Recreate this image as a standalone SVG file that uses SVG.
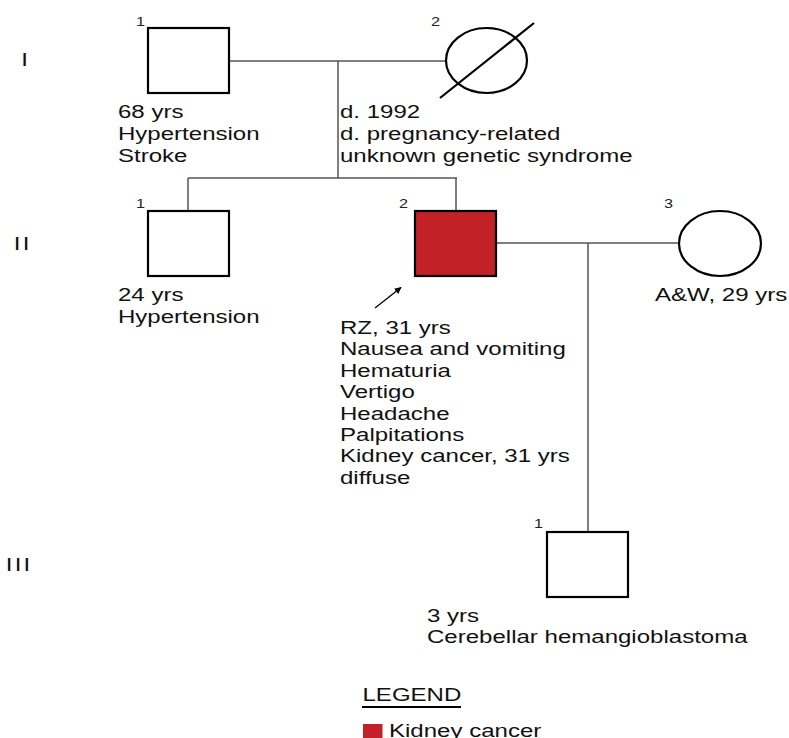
<svg xmlns="http://www.w3.org/2000/svg" width="789" height="738" viewBox="0 0 789 738">
<style>
  .t { font-family: "Liberation Sans", Arial, sans-serif; font-size: 18.5px; fill: #111; }
  .n { font-family: "Liberation Sans", Arial, sans-serif; font-size: 12.5px; fill: #222; }
  .g { font-family: "Liberation Sans", Arial, sans-serif; font-size: 18.5px; fill: #111; letter-spacing: 1.7px; }
  .sym { fill: #fff; stroke: #000; stroke-width: 2.2; }
  .aff { fill: #c22127; stroke: #000; stroke-width: 2.2; }
  .ln { stroke: #555; stroke-width: 1.5; fill: none; }
</style>
<defs>
  <marker id="ah" viewBox="0 0 10 10" refX="9" refY="5" markerWidth="7" markerHeight="7" orient="auto" markerUnits="userSpaceOnUse">
    <path d="M0,0 L10,5 L0,10 z" fill="#000"/>
  </marker>
</defs>
<rect width="789" height="738" fill="#fff"/>

<g id="generations">
  <text class="g" transform="translate(21.3 66) scale(1.3 1)" x="0" y="0">I</text>
  <text class="g" transform="translate(13.8 250) scale(1.3 1)" x="0" y="0">II</text>
  <text class="g" transform="translate(5.8 571) scale(1.3 1)" x="0" y="0">III</text>
</g>

<g id="connectors">
  <line class="ln" x1="229" y1="61" x2="446" y2="61"/>
  <line class="ln" x1="338" y1="61" x2="338" y2="178"/>
  <line class="ln" x1="188" y1="178" x2="457" y2="178"/>
  <line class="ln" x1="188" y1="178" x2="188" y2="211"/>
  <line class="ln" x1="456" y1="178" x2="456" y2="211"/>
  <line class="ln" x1="497" y1="243" x2="679" y2="243"/>
  <line class="ln" x1="588" y1="243" x2="588" y2="532"/>
</g>

<g id="I-1">
  <text class="n" transform="translate(136 26) scale(1.3 1)">1</text>
  <rect class="sym" x="148" y="28" width="81" height="65"/>
  <text class="t" transform="translate(118 118) scale(1.3 1)"><tspan x="0" y="0">68 yrs</tspan><tspan x="0" y="22">Hypertension</tspan><tspan x="0" y="44">Stroke</tspan></text>
</g>

<g id="I-2">
  <text class="n" transform="translate(431 26) scale(1.3 1)">2</text>
  <ellipse class="sym" cx="486.5" cy="60.5" rx="40.5" ry="32.5"/>
  <line x1="440" y1="98" x2="534" y2="23" stroke="#000" stroke-width="2.2"/>
  <text class="t" transform="translate(340 118) scale(1.3 1)"><tspan x="0" y="0">d. 1992</tspan><tspan x="0" y="22">d. pregnancy-related</tspan><tspan x="0" y="44">unknown genetic syndrome</tspan></text>
</g>

<g id="II-1">
  <text class="n" transform="translate(136 208) scale(1.3 1)">1</text>
  <rect class="sym" x="148" y="211" width="81" height="65"/>
  <text class="t" transform="translate(118 301) scale(1.3 1)"><tspan x="0" y="0">24 yrs</tspan><tspan x="0" y="22">Hypertension</tspan></text>
</g>

<g id="II-2">
  <text class="n" transform="translate(399 208) scale(1.3 1)">2</text>
  <rect class="aff" x="415" y="211" width="81" height="65"/>
  <line x1="375" y1="308" x2="401" y2="287.5" stroke="#000" stroke-width="1.3" marker-end="url(#ah)"/>
  <text class="t" transform="translate(340 334) scale(1.3 1)"><tspan x="0" y="0">RZ, 31 yrs</tspan><tspan x="0" y="21.4">Nausea and vomiting</tspan><tspan x="0" y="42.8">Hematuria</tspan><tspan x="0" y="64.2">Vertigo</tspan><tspan x="0" y="85.6">Headache</tspan><tspan x="0" y="107">Palpitations</tspan><tspan x="0" y="128.4">Kidney cancer, 31 yrs</tspan><tspan x="0" y="149.8">diffuse</tspan></text>
</g>

<g id="II-3">
  <text class="n" transform="translate(664 208) scale(1.3 1)">3</text>
  <ellipse class="sym" cx="720" cy="243.5" rx="41" ry="32.5"/>
  <text class="t" transform="translate(655 301) scale(1.3 1)">A&amp;W, 29 yrs</text>
</g>

<g id="III-1">
  <text class="n" transform="translate(534 528) scale(1.3 1)">1</text>
  <rect class="sym" x="547" y="532" width="81" height="65"/>
  <text class="t" transform="translate(427 622) scale(1.3 1)"><tspan x="0" y="0">3 yrs</tspan><tspan x="0" y="21.5">Cerebellar hemangioblastoma</tspan></text>
</g>

<g id="legend">
  <text class="t" transform="translate(362.5 701) scale(1.3 1)">LEGEND</text>
  <line x1="362" y1="707" x2="461" y2="707" stroke="#000" stroke-width="2"/>
  <rect x="363" y="724" width="19.5" height="19" fill="#c22127"/>
  <text class="t" transform="translate(389 737) scale(1.3 1)">Kidney cancer</text>
</g>
</svg>
